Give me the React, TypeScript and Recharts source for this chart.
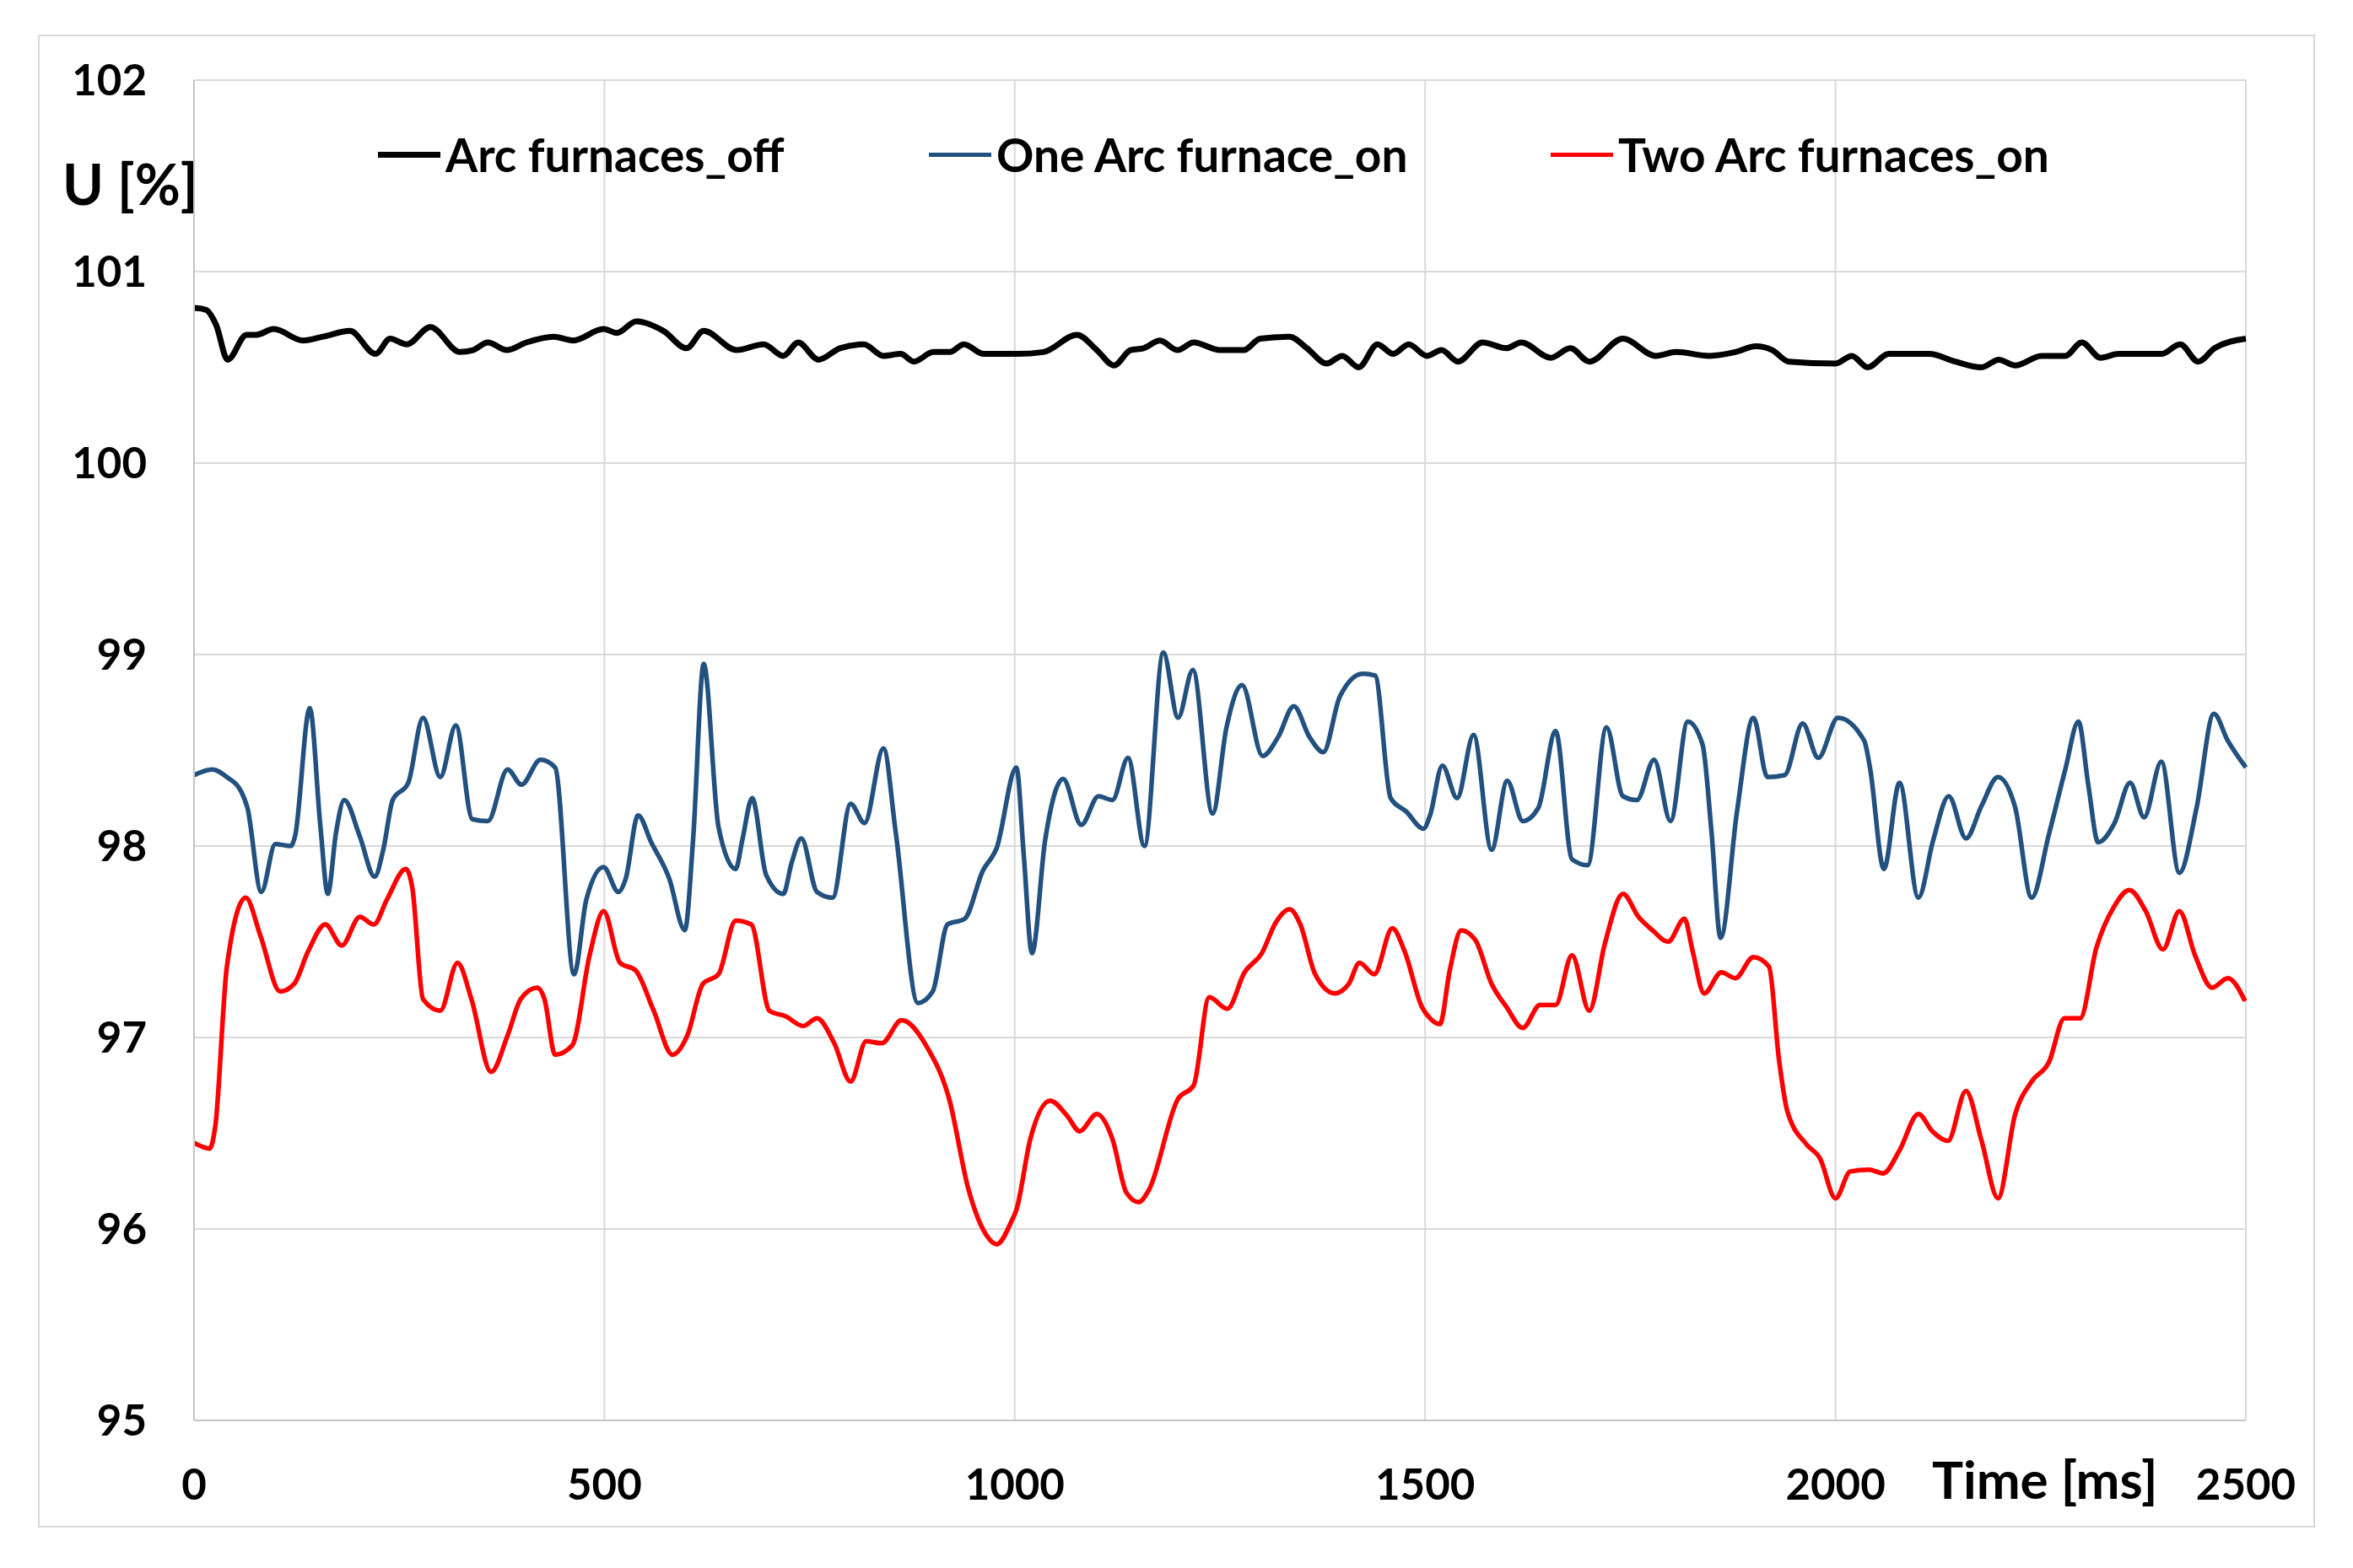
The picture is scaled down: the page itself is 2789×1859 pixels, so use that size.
import React from 'react';
import { LineChart, Line, XAxis, YAxis, CartesianGrid, Legend } from 'recharts';

const FONT = 'Lato, "Open Sans", "DejaVu Sans", sans-serif';

const xTicks = [0, 500, 1000, 1500, 2000, 2500];
const yTicks = [95, 96, 97, 98, 99, 100, 101, 102];
const seriesNames = ['Arc furnaces_off', 'One Arc furnace_on', 'Two Arc furnaces_on'];
const seriesColors = ['#000000', '#22517F', '#FF0000'];

// [time ms, U %]
const offPoints: [number, number][] = [
  [0, 100.81], [3, 100.81], [15, 100.8], [27, 100.72], [41, 100.54], [64, 100.67], [76, 100.67], [97, 100.7],
  [133, 100.64], [157, 100.66], [190, 100.69], [221, 100.57], [239, 100.65], [259, 100.62], [288, 100.71],
  [324, 100.58], [340, 100.59], [358, 100.63], [381, 100.59], [405, 100.63], [438, 100.66], [462, 100.64],
  [499, 100.7], [515, 100.68], [539, 100.74], [572, 100.69], [600, 100.6], [621, 100.69], [661, 100.59],
  [694, 100.62], [718, 100.56], [736, 100.63], [761, 100.54], [787, 100.6], [816, 100.62], [840, 100.56],
  [861, 100.57], [877, 100.53], [901, 100.58], [921, 100.58], [938, 100.62], [962, 100.57], [1003, 100.57],
  [1035, 100.58], [1076, 100.67], [1100, 100.59], [1121, 100.51], [1141, 100.59], [1157, 100.6], [1177, 100.64],
  [1198, 100.59], [1218, 100.63], [1250, 100.59], [1279, 100.59], [1299, 100.65], [1335, 100.66], [1356, 100.6],
  [1380, 100.52], [1399, 100.56], [1419, 100.5], [1442, 100.62], [1461, 100.57], [1480, 100.62], [1502, 100.56],
  [1520, 100.59], [1540, 100.53], [1570, 100.63], [1599, 100.6], [1617, 100.63], [1653, 100.55], [1677, 100.6],
  [1700, 100.53], [1741, 100.65], [1781, 100.56], [1806, 100.58], [1846, 100.56], [1878, 100.58], [1903, 100.61],
  [1923, 100.59], [1943, 100.53], [2000, 100.52], [2020, 100.56], [2039, 100.5], [2065, 100.57], [2114, 100.57],
  [2146, 100.53], [2178, 100.5], [2199, 100.54], [2219, 100.51], [2251, 100.56], [2280, 100.56], [2300, 100.63],
  [2323, 100.55], [2345, 100.57], [2397, 100.57], [2420, 100.62], [2442, 100.53], [2462, 100.6], [2500, 100.65],
];

const oneOnPoints: [number, number][] = [
  [0, 98.37], [22, 98.4], [40, 98.36], [58, 98.28], [65, 98.2], [82, 97.76], [99, 98.01], [118, 98.0], [123, 98.05],
  [141, 98.72], [154, 98.1], [163, 97.75], [173, 98.07], [183, 98.24], [202, 98.05], [220, 97.84], [231, 97.99],
  [242, 98.24], [261, 98.33], [279, 98.67], [300, 98.36], [319, 98.63], [339, 98.14], [358, 98.13], [382, 98.4],
  [399, 98.32], [422, 98.45], [440, 98.41], [463, 97.33], [478, 97.72],
  [499, 97.89], [517, 97.76], [526, 97.83], [541, 98.16], [557, 98.02], [579, 97.83], [598, 97.56], [608, 98.03],
  [621, 98.95], [639, 98.1], [660, 97.88], [668, 98.03], [680, 98.25], [697, 97.85], [718, 97.75], [728, 97.91],
  [740, 98.04], [759, 97.76], [778, 97.73], [800, 98.22], [817, 98.12], [840, 98.51], [855, 98.07], [882, 97.18],
  [900, 97.24], [918, 97.59], [939, 97.62], [961, 97.87], [978, 97.99],
  [1002, 98.41], [1011, 97.95], [1021, 97.44], [1037, 98.03], [1059, 98.35], [1081, 98.11], [1102, 98.26],
  [1119, 98.24], [1138, 98.46], [1158, 98.0], [1181, 99.01], [1199, 98.67], [1217, 98.92], [1241, 98.17],
  [1258, 98.62], [1277, 98.84], [1302, 98.47], [1321, 98.57], [1340, 98.73], [1359, 98.57], [1376, 98.49],
  [1396, 98.78], [1424, 98.9], [1439, 98.89], [1458, 98.25], [1477, 98.18], [1498, 98.09],
  [1506, 98.16], [1521, 98.42], [1539, 98.25], [1559, 98.58], [1581, 97.98], [1600, 98.34], [1619, 98.13],
  [1638, 98.2], [1659, 98.6], [1679, 97.93], [1698, 97.9], [1721, 98.62], [1741, 98.26], [1758, 98.24],
  [1779, 98.45], [1799, 98.13], [1820, 98.65], [1838, 98.53], [1849, 98.07], [1860, 97.52], [1880, 98.18],
  [1900, 98.67], [1917, 98.36], [1938, 98.37], [1960, 98.64], [1979, 98.46], [2003, 98.67],
  [2035, 98.55], [2042, 98.41], [2059, 97.88], [2078, 98.33], [2101, 97.73], [2119, 98.03], [2138, 98.26],
  [2159, 98.04], [2178, 98.21], [2198, 98.36], [2219, 98.2], [2239, 97.73], [2260, 98.06], [2280, 98.4],
  [2296, 98.65], [2308, 98.32], [2320, 98.02], [2340, 98.12], [2359, 98.33], [2376, 98.15], [2397, 98.44],
  [2419, 97.86], [2440, 98.2], [2461, 98.69], [2478, 98.55], [2500, 98.41],
];

const twoOnPoints: [number, number][] = [
  [0, 96.45], [19, 96.42], [26, 96.54], [40, 97.37], [63, 97.73], [81, 97.53], [105, 97.24], [122, 97.28],
  [139, 97.45], [160, 97.59], [180, 97.48], [202, 97.63], [219, 97.59], [235, 97.72], [258, 97.88], [266, 97.78],
  [279, 97.2], [300, 97.14], [321, 97.39], [338, 97.2], [362, 96.82], [382, 97.01], [398, 97.2], [418, 97.26],
  [427, 97.2], [440, 96.91], [461, 96.96], [482, 97.43],
  [499, 97.66], [519, 97.39], [538, 97.35], [560, 97.14], [583, 96.91], [601, 97.01], [620, 97.28], [639, 97.33],
  [660, 97.61], [679, 97.59], [701, 97.14], [721, 97.11], [742, 97.06], [759, 97.1], [780, 96.97], [800, 96.77],
  [819, 96.98], [838, 96.97], [862, 97.09], [893, 96.95], [920, 96.68], [944, 96.2], [965, 95.97], [978, 95.92],
  [996, 96.04],
  [1002, 96.1], [1019, 96.47], [1043, 96.67], [1064, 96.59], [1079, 96.51], [1100, 96.6], [1119, 96.47],
  [1136, 96.19], [1151, 96.14], [1163, 96.2], [1199, 96.68], [1218, 96.75], [1237, 97.21], [1259, 97.15],
  [1280, 97.34], [1301, 97.44], [1318, 97.6], [1335, 97.67], [1348, 97.59], [1366, 97.33], [1390, 97.23],
  [1407, 97.28], [1420, 97.39], [1438, 97.33], [1460, 97.57], [1475, 97.45], [1496, 97.16],
  [1506, 97.1], [1518, 97.07], [1530, 97.35], [1544, 97.56], [1561, 97.51], [1581, 97.28], [1599, 97.16],
  [1619, 97.05], [1640, 97.17], [1659, 97.17], [1679, 97.43], [1700, 97.14], [1719, 97.49], [1741, 97.75],
  [1760, 97.63], [1777, 97.56], [1796, 97.5], [1816, 97.62], [1826, 97.45], [1840, 97.23], [1861, 97.34],
  [1878, 97.31], [1900, 97.42], [1919, 97.37], [1931, 96.89], [1941, 96.62], [1965, 96.44], [1981, 96.37],
  [2000, 96.16], [2018, 96.3],
  [2041, 96.31], [2058, 96.29], [2078, 96.41], [2101, 96.6], [2118, 96.51], [2137, 96.46], [2159, 96.72],
  [2178, 96.46], [2198, 96.16], [2219, 96.6], [2239, 96.77], [2260, 96.87], [2279, 97.1], [2298, 97.1],
  [2318, 97.47], [2339, 97.68], [2358, 97.77], [2378, 97.66], [2399, 97.46], [2419, 97.66], [2438, 97.43],
  [2459, 97.26], [2478, 97.31], [2499, 97.19],
];

const toRows = (pts: [number, number][]) => pts.map(([t, v]) => ({ t, v }));
const offData = toRows(offPoints);
const oneOnData = toRows(oneOnPoints);
const twoOnData = toRows(twoOnPoints);

const legendLeft = [448, 1101, 1838];
const legendLineWidth = [7, 5, 5];

const renderLegend = (props: any) => {
  const payload = props.payload || [];
  return (
    <div style={{ position: 'relative', width: 2789, height: 70 }}>
      {payload.map((entry: any) => {
        const i = seriesNames.indexOf(entry.value);
        return (
          <div
            key={entry.value}
            style={{
              position: 'absolute',
              left: legendLeft[i],
              top: 0,
              height: 70,
              display: 'flex',
              alignItems: 'center',
              whiteSpace: 'nowrap',
            }}
          >
            <div style={{ width: 74, height: legendLineWidth[i], background: seriesColors[i] }} />
            <span
              style={{
                marginLeft: 6,
                fontFamily: FONT,
                fontWeight: 700,
                fontSize: 55,
                color: '#000',
                lineHeight: '70px',
              }}
            >
              {entry.value}
            </span>
          </div>
        );
      })}
    </div>
  );
};

export default function App() {
  return (
    <div
      style={{
        position: 'absolute',
        left: 0,
        top: 0,
        width: 2789,
        height: 1859,
        background: '#ffffff',
        overflow: 'hidden',
      }}
    >
      <div
        style={{
          position: 'absolute',
          left: 45,
          top: 41,
          width: 2699,
          height: 1770,
          border: '2px solid #d9d9d9',
          boxSizing: 'border-box',
        }}
      />
      <div style={{ position: 'absolute', left: 0, top: 0 }}>
        <LineChart width={2789} height={1859} margin={{ top: 95, right: 127, bottom: 75, left: 80 }}>
          <CartesianGrid stroke="#d9d9d9" strokeWidth={2} />
          <XAxis
            type="number"
            dataKey="t"
            domain={[0, 2500]}
            ticks={xTicks}
            allowDuplicatedCategory={false}
            height={100}
            tickLine={false}
            tickSize={0}
            tickMargin={58}
            axisLine={{ stroke: '#c6c6c6', strokeWidth: 2 }}
            tick={{ fill: '#000', fontFamily: FONT, fontWeight: 700, fontSize: 51 }}
            interval={0}
          />
          <YAxis
            type="number"
            domain={[95, 102]}
            ticks={yTicks}
            width={150}
            tickLine={false}
            tickSize={0}
            tickMargin={56}
            axisLine={{ stroke: '#c6c6c6', strokeWidth: 2 }}
            tick={{ fill: '#000', fontFamily: FONT, fontWeight: 700, fontSize: 51 }}
            interval={0}
          />
          <Legend
            layout="horizontal"
            verticalAlign="middle"
            align="center"
            content={renderLegend}
            wrapperStyle={{ position: 'absolute', left: 0, top: 148, width: 2789, height: 70 }}
          />
          <Line
            data={offData}
            dataKey="v"
            name={seriesNames[0]}
            type="monotone"
            stroke={seriesColors[0]}
            strokeWidth={7}
            dot={false}
            activeDot={false}
            isAnimationActive={false}
          />
          <Line
            data={oneOnData}
            dataKey="v"
            name={seriesNames[1]}
            type="monotone"
            stroke={seriesColors[1]}
            strokeWidth={5.5}
            dot={false}
            activeDot={false}
            isAnimationActive={false}
          />
          <Line
            data={twoOnData}
            dataKey="v"
            name={seriesNames[2]}
            type="monotone"
            stroke={seriesColors[2]}
            strokeWidth={5.5}
            dot={false}
            activeDot={false}
            isAnimationActive={false}
          />
        </LineChart>
      </div>
      <svg
        width={2789}
        height={1859}
        style={{ position: 'absolute', left: 0, top: 0, pointerEvents: 'none' }}
      >
        <text x={74} y={243} fontFamily={FONT} fontWeight={700} fontSize={66} fill="#000">
          U [%]
        </text>
        <text x={2290} y={1777} fontFamily={FONT} fontWeight={700} fontSize={62} fill="#000">
          Time [ms]
        </text>
      </svg>
    </div>
  );
}
